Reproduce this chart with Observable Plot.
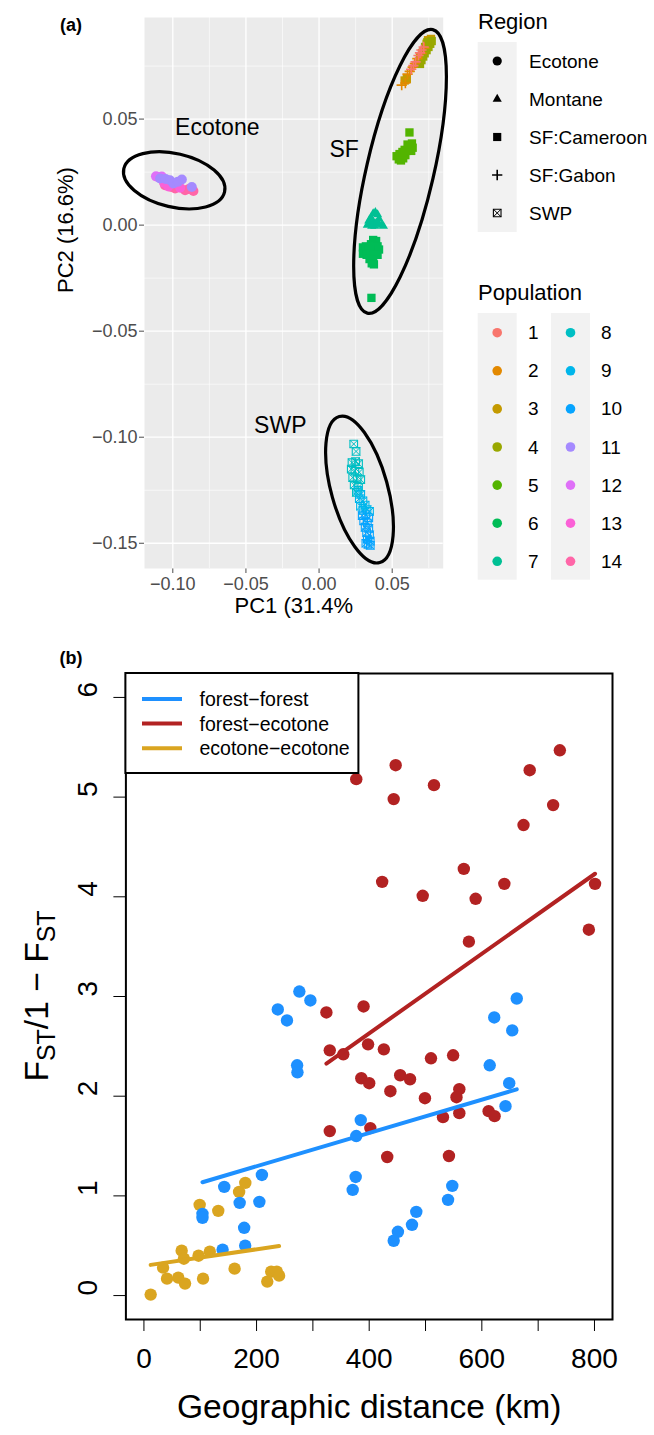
<!DOCTYPE html>
<html><head><meta charset="utf-8">
<script src="https://cdn.jsdelivr.net/npm/d3@7"></script>
<script src="https://cdn.jsdelivr.net/npm/@observablehq/plot@0.6"></script>
<style>
body{margin:0;background:#fff;}
#wrap{position:relative;width:654px;height:1435px;font-family:"Liberation Sans",Arial,sans-serif;background:#fff;}
#pa{position:absolute;left:0;top:0;}
#pb{position:absolute;left:0;top:640px;}
#pa g[aria-label^="x-axis"], #pa g[aria-label^="y-axis"]{color:#4d4d4d;}
</style></head><body><div id="wrap"><div id="pa"></div><div id="pb"></div></div>
<script>
// ---------------- Panel (a) data ----------------
const populations = [1,2,3,4,5,6,7,8,9,10,11,12,13,14];
const popColors = ["#F8766D","#E38900","#C49A00","#99A800","#53B400","#00BC56","#00C094","#00BFC4","#00B6EB","#06A4FF","#A58AFF","#DF70F8","#FB61D7","#FF66A8"];
const popRegion = ["SF:Gabon","SF:Gabon","SF:Cameroon","SF:Cameroon","SF:Cameroon","SF:Cameroon","Montane","SWP","SWP","SWP","Ecotone","Ecotone","Ecotone","Ecotone"];
const regions = ["Ecotone","Montane","SF:Cameroon","SF:Gabon","SWP"];

// [PC1, PC2] per population
const pop1 = [[0.0700,0.0826],[0.0680,0.0800],[0.0660,0.0770],[0.0645,0.0752],[0.0630,0.0735],[0.0690,0.0812],[0.0715,0.0840]];
const pop2 = [[0.0565,0.0660],[0.0590,0.0670],[0.0605,0.0712],[0.0620,0.0725],[0.0640,0.0745],[0.0655,0.0762],[0.0672,0.0785],[0.0700,0.0810],[0.0720,0.0835]];
const pop3 = [[0.0745,0.0872],[0.0765,0.0878],[0.0755,0.0860],[0.0585,0.0682],[0.0600,0.0690],[0.0735,0.0855]];
const pop4 = [[0.0690,0.0760],[0.0700,0.0778],[0.0712,0.0795],[0.0722,0.0810],[0.0735,0.0825],[0.0748,0.0840],[0.0760,0.0855],[0.0770,0.0868],[0.0690,0.0790],[0.0705,0.0812],[0.0725,0.0840],[0.0740,0.0862]];
const pop5 = [[0.0618,0.0437],[0.0530,0.0325],[0.0545,0.0310],[0.0560,0.0305],[0.0575,0.0315],[0.0590,0.0330],[0.0600,0.0350],[0.0612,0.0365],[0.0625,0.0375],[0.0635,0.0385],[0.0640,0.0365],[0.0630,0.0350],[0.0550,0.0335],[0.0570,0.0345],[0.0585,0.0355],[0.0605,0.0380]];
const pop6 = [[0.0370,-0.0070],[0.0390,-0.0075],[0.0355,-0.0090],[0.0380,-0.0095],[0.0400,-0.0100],[0.0300,-0.0105],[0.0320,-0.0100],[0.0340,-0.0110],[0.0365,-0.0115],[0.0390,-0.0120],[0.0410,-0.0115],[0.0300,-0.0135],[0.0325,-0.0140],[0.0350,-0.0135],[0.0375,-0.0140],[0.0400,-0.0140],[0.0345,-0.0160],[0.0370,-0.0165],[0.0360,-0.0180],[0.0375,-0.0185],[0.0358,-0.0343]];
const pop7 = [[0.0340,0.0020],[0.0355,0.0035],[0.0370,0.0055],[0.0385,0.0060],[0.0400,0.0050],[0.0410,0.0030],[0.0330,0.0000],[0.0350,0.0005],[0.0370,0.0015],[0.0390,0.0010],[0.0410,0.0005],[0.0430,0.0000],[0.0440,-0.0005],[0.0380,-0.0005],[0.0360,-0.0005]];
const pop8 = [[0.0237,-0.1032],[0.0253,-0.1067],[0.0225,-0.1120],[0.0250,-0.1115],[0.0270,-0.1125],[0.0220,-0.1150],[0.0245,-0.1160],[0.0275,-0.1165],[0.0230,-0.1190],[0.0260,-0.1195],[0.0285,-0.1200],[0.0240,-0.1225],[0.0270,-0.1235],[0.0255,-0.1260]];
const pop9 = [[0.0265,-0.1250],[0.0285,-0.1270],[0.0275,-0.1290],[0.0300,-0.1300],[0.0283,-0.1325],[0.0315,-0.1320],[0.0328,-0.1341],[0.0300,-0.1345],[0.0345,-0.1350]];
const pop10 = [[0.0295,-0.1370],[0.0320,-0.1365],[0.0340,-0.1380],[0.0305,-0.1395],[0.0330,-0.1405],[0.0315,-0.1425],[0.0340,-0.1430],[0.0325,-0.1450],[0.0345,-0.1460],[0.0330,-0.1480],[0.0350,-0.1490],[0.0335,-0.1505],[0.0350,-0.1510],[0.0320,-0.1500]];
const pop11 = [[-0.1087,0.0220],[-0.1050,0.0218],[-0.1019,0.0212],[-0.0996,0.0196],[-0.0965,0.0205],[-0.0938,0.0215],[-0.0870,0.0180]];
const pop12 = [[-0.1115,0.0230],[-0.1100,0.0226],[-0.1075,0.0229]];
const pop13 = [[-0.1060,0.0200],[-0.1030,0.0182],[-0.0950,0.0176]];
const pop14 = [[-0.1053,0.0188],[-0.1010,0.0180],[-0.0984,0.0173],[-0.0916,0.0165],[-0.0890,0.0170],[-0.0859,0.0161]];

const pcaXTicks = [-0.10,-0.05,0.00,0.05];
const pcaXMinor = [-0.075,-0.025,0.025,0.075];
const pcaYTicks = [0.05,0.00,-0.05,-0.10,-0.15];
const pcaYMinor = [0.075,0.025,-0.025,-0.075,-0.125];

const groupNames = ["Ecotone","SF","SWP"];
const groupLabelPC1 = [-0.0696, 0.0171, -0.0265];
const groupLabelPC2 = [0.0459, 0.0355, -0.0946];
const ellipseCenterPC1 = [-0.0987, 0.0557, 0.0280];
const ellipseCenterPC2 = [0.0209, 0.0251, -0.1249];

// ---------------- Panel (b) data ----------------
const ffDist = [237.7,254,276,295.6,272,272.6,662,622,654,614,648.6,642,385,377,376,370.7,209.5,142.6,170,205,104,104,178,179.8,139.7,483.6,476,451,443.5,547.5,540];
const ffFst  = [2.87,2.76,3.05,2.96,2.31,2.24,2.98,2.79,2.66,2.31,2.13,1.90,1.76,1.60,1.19,1.06,1.21,1.09,0.93,0.94,0.82,0.78,0.68,0.50,0.46,0.84,0.71,0.64,0.55,1.10,0.96];
const feDist = [377,447,443.5,515,738.5,685,726.6,674,423,495,568,589,640,801,790,577,324,390,330,354,398,426,386,400,455,472.5,437.6,509.7,549,499,560,555,560,531,612,622.6,330,402,432,541.6];
const feFst  = [5.18,5.32,4.98,5.12,5.47,5.27,4.92,4.72,4.15,4.01,4.28,3.98,4.13,4.13,3.67,3.55,2.84,2.90,2.46,2.42,2.52,2.47,2.18,2.13,2.21,2.17,2.05,2.38,2.41,1.98,2.07,1.99,1.83,1.79,1.85,1.80,1.65,1.68,1.39,1.40];
const eeDist = [12,34,41,67,61,71,73,97,99,117,105,132,161,169,180,219,226,236,240];
const eeFst  = [0.01,0.28,0.17,0.45,0.18,0.37,0.12,0.40,0.91,0.44,0.17,0.85,0.27,1.04,1.13,0.14,0.24,0.24,0.20];
const pairTypes = ["forest\u2212forest","forest\u2212ecotone","ecotone\u2212ecotone"];
const pairColors = ["#1E90FF","#B22222","#DAA520"];
const distTicks = [0,100,200,300,400,500,600,700,800];
const distLabels = [0,200,400,600,800];
const fstTicks = [0,1,2,3,4,5,6];

const FONT = "Liberation Sans, Arial, Helvetica, sans-serif";

// ---------------- Build panel (a) ----------------
const popPoints = [pop1,pop2,pop3,pop4,pop5,pop6,pop7,pop8,pop9,pop10,pop11,pop12,pop13,pop14];
const drawOrder = [6,7,5,3,4,2,1,8,9,10,14,13,12,11];
const pcaRows = [];
for (const p of drawOrder) {
  for (const [a,b] of popPoints[p-1]) pcaRows.push({pop:p, pc1:a, pc2:b, region:popRegion[p-1], color:popColors[p-1]});
}
const byRegion = r => pcaRows.filter(d => d.region === r);
const fmt2 = d3.format(".2f");
const groupRows = groupNames.map((g,i) => ({name:g, x:groupLabelPC1[i], y:groupLabelPC2[i]}));

const plotA = Plot.plot({
  width: 654, height: 640,
  marginLeft: 144, marginRight: 211.3, marginTop: 17, marginBottom: 72,
  style: {fontFamily: FONT, fontSize: "18px", background: "transparent", overflow: "visible"},
  color: {type: "identity"},
  x: {domain: [-0.11935, 0.08487], ticks: pcaXTicks, tickFormat: fmt2, tickSize: 5, tickPadding: 4, label: null},
  y: {domain: [-0.1619, 0.0979], ticks: pcaYTicks, tickFormat: fmt2, tickSize: 5, tickPadding: 2, label: null},
  marks: [
    Plot.frame({fill: "#EBEBEB", stroke: "none"}),
    Plot.ruleX(pcaXMinor, {stroke: "white", strokeWidth: 0.6}),
    Plot.ruleY(pcaYMinor, {stroke: "white", strokeWidth: 0.6}),
    Plot.ruleX(pcaXTicks, {stroke: "white", strokeWidth: 1.3}),
    Plot.ruleY(pcaYTicks, {stroke: "white", strokeWidth: 1.3}),
    Plot.dot(byRegion("SF:Cameroon"), {x: "pc1", y: "pc2", fill: "color", symbol: "square", r: 4.7}),
    Plot.dot(byRegion("Montane"), {x: "pc1", y: "pc2", fill: "color", symbol: "triangle", r: 3.4}),
    Plot.dot(byRegion("SF:Gabon"), {x: "pc1", y: "pc2", stroke: "color", symbol: "plus", r: 3.4, strokeWidth: 1.6}),
    Plot.dot(byRegion("SWP"), {x: "pc1", y: "pc2", stroke: "color", fill: "none", symbol: "square", r: 4.3, strokeWidth: 1.1}),
    Plot.dot(byRegion("SWP"), {x: "pc1", y: "pc2", stroke: "color", symbol: "times", r: 3.7, strokeWidth: 1}),
    Plot.dot(byRegion("Ecotone"), {x: "pc1", y: "pc2", fill: "color", symbol: "circle", r: 5}),
    Plot.text(groupRows, {x: "x", y: "y", text: "name", fontSize: 23, fill: "black"}),
    Plot.text(["PC1 (31.4%"], {text: d => d, frameAnchor: "bottom", dy: 44, fontSize: 22, fill: "black"}),
    Plot.text(["PC2 (16.6%)"], {text: d => d, frameAnchor: "left", dx: -79, rotate: -90, fontSize: 22, fill: "black"})
  ]
});
document.getElementById("pa").appendChild(plotA);

(function drawAnnotations(){
  const svg = d3.select(plotA);
  const sx = plotA.scale("x"), sy = plotA.scale("y");
  const fx = sx.apply ? v => sx.apply(v) : d3.scaleLinear(sx.domain, sx.range);
  const fy = sy.apply ? v => sy.apply(v) : d3.scaleLinear(sy.domain, sy.range);
  const ellRx = [51.7, 145.5, 75.8], ellRy = [26.8, 33.7, 28.2], ellRot = [13, -77, 74.5];
  const g = svg.append("g");
  groupNames.forEach((n,i) => {
    g.append("ellipse").attr("cx",0).attr("cy",0).attr("rx",ellRx[i]).attr("ry",ellRy[i])
      .attr("transform",`translate(${fx(ellipseCenterPC1[i])},${fy(ellipseCenterPC2[i])}) rotate(${ellRot[i]})`)
      .attr("fill","none").attr("stroke","black").attr("stroke-width",3.2);
  });
  svg.append("text").attr("x",71).attr("y",25).attr("text-anchor","middle").attr("dominant-baseline","central")
    .attr("font-weight","bold").attr("font-size",18).attr("fill","black").text("(a)");

  // Region legend
  const L = svg.append("g").attr("font-family", FONT).attr("text-anchor","start");
  L.append("text").attr("x",478).attr("y",21).attr("text-anchor","start").attr("dominant-baseline","central").attr("font-size",22).attr("fill","black").text("Region");
  L.append("rect").attr("x",477.7).attr("y",42).attr("width",39).attr("height",190).attr("fill","#F2F2F2");
  const regSym = [d3.symbolCircle, d3.symbolTriangle, d3.symbolSquare, d3.symbolPlus, d3.symbolSquare];
  const regR = [4.6, 3.4, 4.6, 3.4, 4.3];
  regions.forEach((r,i) => {
    const cy = 61 + 38*i;
    const filled = i < 3;
    L.append("path").attr("d", d3.symbol(regSym[i], Math.PI*regR[i]*regR[i])())
      .attr("transform",`translate(497.2,${cy})`)
      .attr("fill", filled ? "black" : "none").attr("stroke", filled ? "none" : "black")
      .attr("stroke-width", i === 3 ? 1.6 : 1.1);
    if (i === 4) {
      L.append("path").attr("d", d3.symbol(d3.symbolTimes, Math.PI*3.7*3.7)())
        .attr("transform",`translate(497.2,${cy})`).attr("fill","none").attr("stroke","black").attr("stroke-width",1);
    }
    L.append("text").attr("x",529).attr("y",cy).attr("text-anchor","start").attr("dominant-baseline","central").attr("font-size",19).attr("fill","black").text(r);
  });

  // Population legend
  L.append("text").attr("x",478).attr("y",292).attr("text-anchor","start").attr("dominant-baseline","central").attr("font-size",22).attr("fill","black").text("Population");
  L.append("rect").attr("x",477.7).attr("y",313).attr("width",39).attr("height",266.7).attr("fill","#F2F2F2");
  L.append("rect").attr("x",551).attr("y",313).attr("width",39).attr("height",266.7).attr("fill","#F2F2F2");
  populations.forEach((p,i) => {
    const col = Math.floor(i/7), row = i % 7;
    const cy = 332.7 + 38.1*row;
    const kx = col === 0 ? 497.2 : 570.5;
    const tx = col === 0 ? 528 : 601;
    L.append("circle").attr("cx",kx).attr("cy",cy).attr("r",4.8).attr("fill",popColors[i]);
    L.append("text").attr("x",tx).attr("y",cy).attr("text-anchor","start").attr("dominant-baseline","central").attr("font-size",19).attr("fill","black").text(p);
  });
})();

// ---------------- Build panel (b) ----------------
const ffRows = ffDist.map((d,i) => ({dist:d, fst:ffFst[i]}));
const feRows = feDist.map((d,i) => ({dist:d, fst:feFst[i]}));
const eeRows = eeDist.map((d,i) => ({dist:d, fst:eeFst[i]}));

const plotB = Plot.plot({
  width: 654, height: 795,
  marginLeft: 125.4, marginRight: 42, marginTop: 33, marginBottom: 116,
  style: {fontFamily: FONT, fontSize: "28px", background: "transparent", overflow: "visible", color: "black"},
  x: {domain: [-32, 832], ticks: distTicks, tickSize: 12, tickFormat: () => "", label: null},
  y: {domain: [-0.24, 6.24], ticks: fstTicks, tickSize: 12, tickFormat: () => "", label: null},
  marks: [
    Plot.dot(eeRows, {x: "dist", y: "fst", fill: pairColors[2], r: 6.2}),
    Plot.dot(feRows, {x: "dist", y: "fst", fill: pairColors[1], r: 6.2}),
    Plot.dot(ffRows, {x: "dist", y: "fst", fill: pairColors[0], r: 6.2}),
    Plot.linearRegressionY(ffRows, {x: "dist", y: "fst", stroke: pairColors[0], strokeWidth: 4, ci: 0}),
    Plot.linearRegressionY(feRows, {x: "dist", y: "fst", stroke: pairColors[1], strokeWidth: 4, ci: 0}),
    Plot.linearRegressionY(eeRows, {x: "dist", y: "fst", stroke: pairColors[2], strokeWidth: 4, ci: 0}),
    Plot.frame({stroke: "black", strokeWidth: 2}),
    Plot.text(distLabels, {x: d => d, text: d => String(d), frameAnchor: "bottom", dy: 48, fontSize: 28, fill: "black"}),
    Plot.text(fstTicks, {y: d => d, text: d => String(d), frameAnchor: "left", dx: -37.5, rotate: -90, fontSize: 28, fill: "black"}),
    Plot.text(["Geographic distance (km)"], {text: d => d, frameAnchor: "bottom", dy: 98, fontSize: 33.6, fill: "black"})
  ]
});
document.getElementById("pb").appendChild(plotB);

(function drawB(){
  const svg = d3.select(plotB);
  svg.append("text").attr("x",71).attr("y",18).attr("text-anchor","middle").attr("dominant-baseline","central")
    .attr("font-weight","bold").attr("font-size",18).attr("fill","black").attr("font-family",FONT).text("(b)");
  // y title with subscripts
  const t = svg.append("text").attr("transform","translate(36.4,356) rotate(-90)")
    .attr("text-anchor","middle").attr("font-size",33.6).attr("fill","black").attr("font-family",FONT).attr("dy","0.35em");
  t.append("tspan").text("F");
  t.append("tspan").attr("font-size",25).attr("dy",7).text("ST");
  t.append("tspan").attr("dy",-7).text("/1 \u2212 F");
  t.append("tspan").attr("font-size",25).attr("dy",7).text("ST");
  // legend
  const L = svg.append("g").attr("font-family",FONT).attr("text-anchor","start");
  L.append("rect").attr("x",125.4).attr("y",33).attr("width",233).attr("height",100).attr("fill","white").attr("stroke","black").attr("stroke-width",2);
  pairTypes.forEach((p,i) => {
    const cy = 59 + 24.6*i;
    L.append("line").attr("x1",142).attr("x2",182).attr("y1",cy).attr("y2",cy).attr("stroke",pairColors[i]).attr("stroke-width",4);
    L.append("text").attr("x",199.5).attr("y",cy).attr("text-anchor","start").attr("dominant-baseline","central").attr("font-size",19.5).attr("fill","black").text(p);
  });
})();
</script></body></html>
